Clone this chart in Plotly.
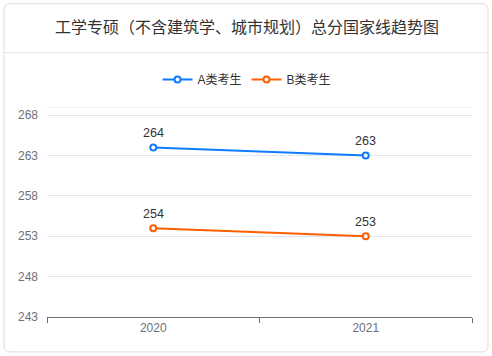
import plotly.graph_objects as go

categories = ["2020", "2021"]
series_a = [264, 263]
series_b = [254, 253]
series_names = ["A类考生", "B类考生"]
y_ticks = [243, 248, 253, 258, 263, 268]
title_text = "工学专硕（不含建筑学、城市规划）总分国家线趋势图"

W, H = 492, 356
L, R, T, B = 47, 20, 106.5, 39
pw, ph = W - L - R, H - T - B

def px(x):
    return (x - L) / pw

def py(y):
    return (H - B - y) / ph

FONT = "Liberation Sans, Arial, Noto Sans CJK SC, sans-serif"
CJK = "Liberation Sans, Noto Sans CJK SC, sans-serif"
BLUE = "#0F7BFF"
ORANGE = "#FF5E00"

fig = go.Figure()
annotations = []
for name, vals, col in [(series_names[0], series_a, BLUE), (series_names[1], series_b, ORANGE)]:
    fig.add_trace(go.Scatter(
        x=categories, y=vals, name=name, mode="lines+markers",
        line=dict(color=col, width=2),
        marker=dict(size=6, color="white", line=dict(color=col, width=2)),
        cliponaxis=False,
    ))
    for i, v in enumerate(vals):
        annotations.append(dict(x=i, y=v, xref="x", yref="y", text=str(v), showarrow=False,
                                yshift=14, xanchor="center", yanchor="middle",
                                font=dict(size=12.5, color="#333333", family=FONT)))

# card border with rounded corners
x0, y0, x1, y1, r = 4, 3, 488, 352, 6
path = (f"M {px(x0+r)},{py(y0)} L {px(x1-r)},{py(y0)} "
        f"Q {px(x1)},{py(y0)} {px(x1)},{py(y0+r)} L {px(x1)},{py(y1-r)} "
        f"Q {px(x1)},{py(y1)} {px(x1-r)},{py(y1)} L {px(x0+r)},{py(y1)} "
        f"Q {px(x0)},{py(y1)} {px(x0)},{py(y1-r)} L {px(x0)},{py(y0+r)} "
        f"Q {px(x0)},{py(y0)} {px(x0+r)},{py(y0)} Z")
shapes = [
    dict(type="path", path=path, xref="paper", yref="paper",
         line=dict(color="#DCDCDC", width=1), fillcolor="rgba(0,0,0,0)", layer="below"),
    dict(type="line", xref="paper", yref="paper", x0=px(x0), x1=px(x1), y0=py(52), y1=py(52),
         line=dict(color="#E3E3E3", width=1)),
    dict(type="line", xref="paper", yref="y", x0=0, x1=1, y0=269, y1=269,
         line=dict(color="#E0E6F1", width=1), layer="below"),
]

annotations.append(dict(text=title_text, xref="paper", yref="paper", x=px(246.5), y=py(27),
                        xanchor="center", yanchor="middle", showarrow=False,
                        font=dict(size=16, color="#333333", family=CJK)))

fig.update_layout(
    width=W, height=H,
    margin=dict(l=L, r=R, t=T, b=B),
    paper_bgcolor="white", plot_bgcolor="white",
    font=dict(family=FONT, size=12, color="#333333"),
    shapes=shapes,
    annotations=annotations,
    legend=dict(orientation="h", x=px(247), y=py(79), xanchor="center", yanchor="middle",
                font=dict(size=12, color="#333333", family=CJK),
                itemwidth=30, bgcolor="rgba(0,0,0,0)"),
    showlegend=True,
    xaxis=dict(type="category", range=[-0.5, 1.5], tickson="boundaries",
               ticks="outside", ticklen=5, tickcolor="#6E7079",
               showline=True, linecolor="#6E7079", linewidth=1,
               showgrid=False, zeroline=False,
               tickfont=dict(size=12, color="#6E7079", family=FONT)),
    yaxis=dict(range=[243, 269], tickvals=y_ticks, showgrid=True, gridcolor="#E0E6F1",
               zeroline=False, showline=False, ticks="", ticklabelstandoff=8,
               tickfont=dict(size=12, color="#6E7079", family=FONT)),
)

fig.write_html("out.html", config={"displayModeBar": False},
               post_script="document.body.style.margin='0';")
